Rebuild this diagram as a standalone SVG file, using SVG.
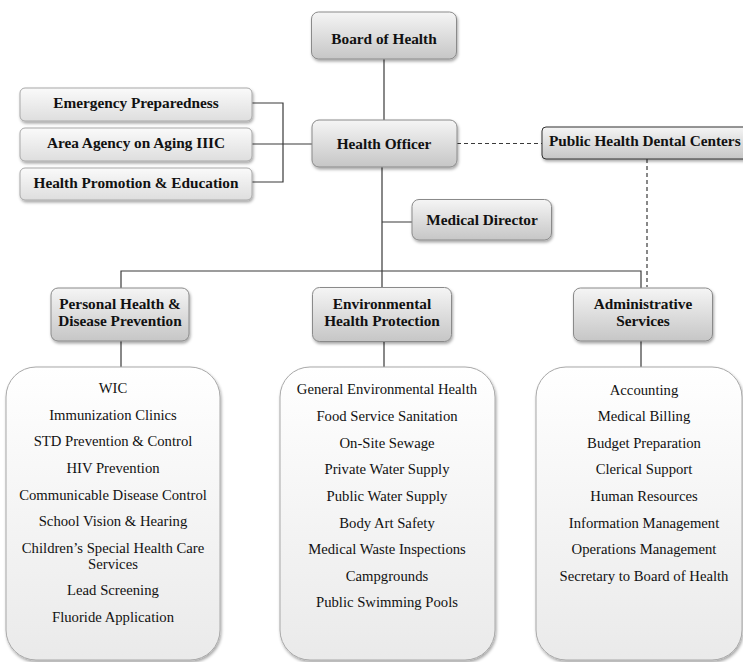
<svg xmlns="http://www.w3.org/2000/svg" width="743" height="662" viewBox="0 0 743 662">
<style>
.hb{font-weight:bold;font-size:15.3px;fill:#111;text-anchor:middle}
.li{font-size:14.7px;fill:#111;text-anchor:middle}
.hdr{fill:url(#gH);stroke:#8a8a8a;stroke-width:1;filter:url(#sh)}
.side{fill:url(#gS);stroke:#a8a8a8;stroke-width:1;filter:url(#sh)}
.lst{fill:url(#gL);stroke:#a8a8a8;stroke-width:1;filter:url(#sh)}
.ln{stroke:#3a3a3a;stroke-width:1.2;fill:none}
.dash{stroke:#3a3a3a;stroke-width:1.2;fill:none;stroke-dasharray:4 3}
</style>
<defs>
<linearGradient id="gH" x1="0" y1="0" x2="0" y2="1"><stop offset="0" stop-color="#f5f5f5"/><stop offset="1" stop-color="#c6c6c6"/></linearGradient>
<linearGradient id="gS" x1="0" y1="0" x2="0" y2="1"><stop offset="0" stop-color="#fafafa"/><stop offset="1" stop-color="#dedede"/></linearGradient>
<linearGradient id="gL" x1="0" y1="0" x2="0" y2="1"><stop offset="0" stop-color="#ffffff"/><stop offset="1" stop-color="#eaeaea"/></linearGradient>
<filter id="sh" x="-10%" y="-10%" width="120%" height="130%"><feDropShadow dx="1" dy="2" stdDeviation="1.5" flood-color="#000" flood-opacity="0.35"/></filter>
</defs>
<g id="connectors">
<path class="ln" d="M384 59V120"/>
<path class="ln" d="M252 103H283V182H252M252 144H312"/>
<path class="dash" d="M457 143.5H542"/>
<path class="dash" d="M647 159V287"/>
<path class="ln" d="M382 167V288M382 222H412"/>
<path class="ln" d="M121 288V271H641V288"/>
<path class="ln" d="M121 341V367M384 341V367M641 341V367"/>
</g>
<g font-family="'Liberation Serif', 'DejaVu Serif', serif">
<g id="board"><rect class="hdr" x="311.5" y="12" width="145" height="47" rx="7"/><text class="hb" x="384" y="44">Board of Health</text></g>
<g id="officer"><rect class="hdr" x="312" y="120" width="145" height="47" rx="7"/><text class="hb" x="384" y="149">Health Officer</text></g>
<g id="emergency"><rect class="side" x="20" y="88" width="232" height="33" rx="5"/><text class="hb" x="136" y="108">Emergency Preparedness</text></g>
<g id="aging"><rect class="side" x="20" y="128" width="232" height="33" rx="5"/><text class="hb" x="136" y="148">Area Agency on Aging IIIC</text></g>
<g id="promotion"><rect class="side" x="20" y="168" width="232" height="32" rx="5"/><text class="hb" x="136" y="188">Health Promotion &amp; Education</text></g>
<g id="dental"><rect class="hdr" x="542" y="127" width="210" height="32" rx="4" style="stroke:#303030"/><text class="hb" x="549" y="146" style="text-anchor:start">Public Health Dental Centers</text></g>
<g id="medical"><rect class="hdr" x="412" y="199.5" width="139.5" height="40.5" rx="7"/><text class="hb" x="482" y="225">Medical Director</text></g>
<g id="personal"><rect class="hdr" x="51" y="288" width="138" height="53" rx="7"/><text class="hb" x="120" y="308.5">Personal Health &amp;</text><text class="hb" x="120" y="326">Disease Prevention</text></g>
<g id="environmental"><rect class="hdr" x="312.5" y="287.5" width="139" height="54" rx="7"/><text class="hb" x="382" y="309">Environmental</text><text class="hb" x="382" y="326">Health Protection</text></g>
<g id="administrative"><rect class="hdr" x="573.5" y="288" width="139" height="53" rx="7"/><text class="hb" x="643" y="309">Administrative</text><text class="hb" x="643" y="326">Services</text></g>
<g id="personal-list"><rect class="lst" x="6" y="367" width="214" height="293" rx="30"/>
<text class="li" x="113" y="393">WIC</text>
<text class="li" x="113" y="420">Immunization Clinics</text>
<text class="li" x="113" y="446">STD Prevention &amp; Control</text>
<text class="li" x="113" y="473">HIV Prevention</text>
<text class="li" x="113" y="500">Communicable Disease Control</text>
<text class="li" x="113" y="526">School Vision &amp; Hearing</text>
<text class="li" x="113" y="553">Children’s Special Health Care</text>
<text class="li" x="113" y="569">Services</text>
<text class="li" x="113" y="595">Lead Screening</text>
<text class="li" x="113" y="622">Fluoride Application</text>
</g>
<g id="environmental-list"><rect class="lst" x="280" y="367" width="215" height="293" rx="30"/>
<text class="li" x="387" y="394">General Environmental Health</text>
<text class="li" x="387" y="421">Food Service Sanitation</text>
<text class="li" x="387" y="448">On-Site Sewage</text>
<text class="li" x="387" y="474">Private Water Supply</text>
<text class="li" x="387" y="501">Public Water Supply</text>
<text class="li" x="387" y="528">Body Art Safety</text>
<text class="li" x="387" y="554">Medical Waste Inspections</text>
<text class="li" x="387" y="581">Campgrounds</text>
<text class="li" x="387" y="607">Public Swimming Pools</text>
</g>
<g id="administrative-list"><rect class="lst" x="536" y="367" width="206" height="293" rx="30"/>
<text class="li" x="644" y="395">Accounting</text>
<text class="li" x="644" y="421">Medical Billing</text>
<text class="li" x="644" y="448">Budget Preparation</text>
<text class="li" x="644" y="474">Clerical Support</text>
<text class="li" x="644" y="501">Human Resources</text>
<text class="li" x="644" y="528">Information Management</text>
<text class="li" x="644" y="554">Operations Management</text>
<text class="li" x="644" y="581">Secretary to Board of Health</text>
</g>
</g>
</svg>
